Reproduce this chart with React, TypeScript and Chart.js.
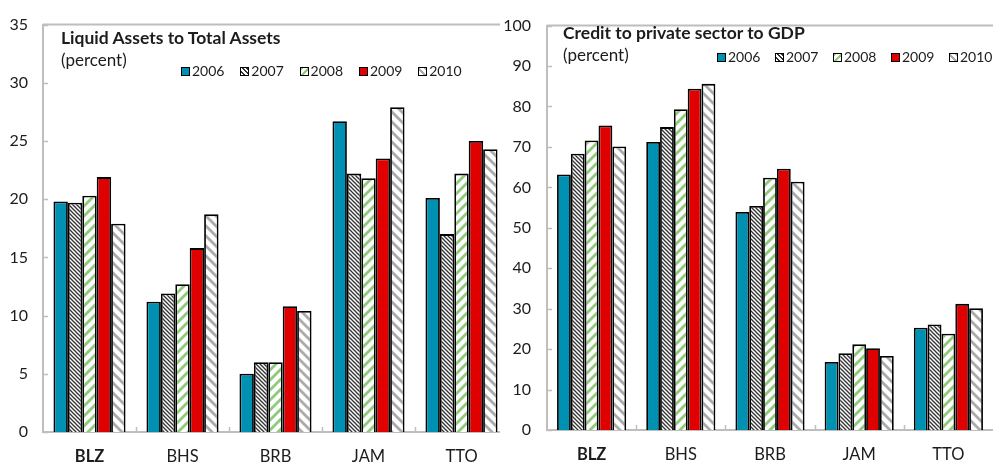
import React, { useEffect, useRef } from 'react';
import { Chart, registerables } from 'chart.js';

Chart.register(...registerables);

const categories = ['BLZ', 'BHS', 'BRB', 'JAM', 'TTO'];
const years = ['2006', '2007', '2008', '2009', '2010'];

// Liquid assets to total assets (percent)
const liquid2006 = [19.8, 11.2, 5.0, 26.7, 20.1];
const liquid2007 = [19.7, 11.9, 6.0, 22.2, 17.0];
const liquid2008 = [20.3, 12.7, 6.0, 21.8, 22.2];
const liquid2009 = [21.9, 15.8, 10.8, 23.5, 25.0];
const liquid2010 = [17.9, 18.7, 10.4, 27.9, 24.3];

// Credit to private sector (percent of GDP)
const credit2006 = [63.2, 71.2, 53.9, 16.8, 25.3];
const credit2007 = [68.3, 74.9, 55.4, 19.0, 26.1];
const credit2008 = [71.6, 79.3, 62.4, 21.2, 23.8];
const credit2009 = [75.3, 84.4, 64.6, 20.2, 31.2];
const credit2010 = [70.1, 85.6, 61.4, 18.3, 30.1];

const liquidAxis = { max: 35, step: 5 };
const creditAxis = { max: 100, step: 10 };

const FONT = 'Lato, "Open Sans", "DejaVu Sans", sans-serif';
const TEXT = '#1c1c1c';
const AXIS = '#BEBEBE';

const TEAL = '#0090B2';
const RED = '#E00000';

// Diagonal hatch tile; 'down' draws "\" lines, 'up' draws "/" lines.
function hatch(color: string, period: number, width: number, dir: 'down' | 'up'): CanvasPattern {
  const c = document.createElement('canvas');
  c.width = period;
  c.height = period;
  const g = c.getContext('2d')!;
  g.fillStyle = '#ffffff';
  g.fillRect(0, 0, period, period);
  g.strokeStyle = color;
  g.lineWidth = width;
  for (let k = -2; k <= 3; k++) {
    g.beginPath();
    if (dir === 'down') {
      g.moveTo(-period, -period + k * period);
      g.lineTo(2 * period, 2 * period + k * period);
    } else {
      g.moveTo(-period, period + k * period);
      g.lineTo(2 * period, -2 * period + k * period);
    }
    g.stroke();
  }
  return g.createPattern(c, 'repeat')!;
}

function makeFills(): (string | CanvasPattern)[] {
  return [
    TEAL,
    hatch('#333333', 4, 1.3, 'down'),
    hatch('#8FCB7B', 10, 2.8, 'up'),
    RED,
    hatch('#ABABAB', 10, 2.8, 'down'),
  ];
}

const swatches = [
  TEAL,
  'repeating-linear-gradient(45deg, #ffffff 0px, #ffffff 2px, #333333 2px, #333333 3.2px)',
  'repeating-linear-gradient(-45deg, #ffffff 0px, #ffffff 3px, #8FCB7B 3px, #8FCB7B 5px)',
  RED,
  'repeating-linear-gradient(45deg, #ffffff 0px, #ffffff 3px, #ABABAB 3px, #ABABAB 5px)',
];

// Frame lines: top border plus inward tick marks on both axes.
const axisFrame = {
  id: 'axisFrame',
  beforeDatasetsDraw(chart: any) {
    const { ctx, chartArea: a, scales } = chart;
    const xs = scales.x;
    const ys = scales.y;
    ctx.save();
    ctx.strokeStyle = AXIS;
    ctx.lineWidth = 2;
    ctx.beginPath();
    ctx.moveTo(a.left, a.top);
    ctx.lineTo(a.right, a.top);
    ctx.stroke();
    ctx.lineWidth = 1.5;
    ctx.beginPath();
    ys.ticks.forEach((t: any) => {
      const py = Math.round(ys.getPixelForValue(t.value)) + 0.5;
      ctx.moveTo(a.left, py);
      ctx.lineTo(a.left + 5, py);
    });
    for (let i = 1; i < categories.length; i++) {
      const px = Math.round((xs.getPixelForTick(i - 1) + xs.getPixelForTick(i)) / 2) + 0.5;
      ctx.moveTo(px, a.bottom);
      ctx.lineTo(px, a.bottom - 5);
    }
    ctx.stroke();
    ctx.restore();
  },
};

type Area = { left: number; top: number; right: number; bottom: number };

type PanelProps = {
  x: number;
  width: number;
  height: number;
  area: Area;
  max: number;
  step: number;
  labelPad: number;
  series: number[][];
  title: string;
  titleX: number;
  titleY: number;
  subY: number;
  legendX: number;
  legendY: number;
  legendStep: number;
  z: number;
};

function BarPanel(p: PanelProps) {
  const ref = useRef<HTMLCanvasElement | null>(null);

  useEffect(() => {
    const canvas = ref.current;
    if (!canvas) return;
    const fills = makeFills();
    const chart = new Chart(canvas, {
      type: 'bar',
      data: {
        labels: categories,
        datasets: years.map((yr, i) => ({
          label: yr,
          data: p.series[i],
          backgroundColor: fills[i] as any,
          borderColor: '#000000',
          borderWidth: 1.8,
          categoryPercentage: 0.775,
          barPercentage: 1.0,
        })),
      },
      options: {
        animation: false,
        responsive: false,
        devicePixelRatio: 1,
        layout: {
          padding: { left: 0, top: p.area.top, right: p.width - p.area.right, bottom: 0 },
        },
        plugins: {
          legend: { display: false },
          tooltip: { enabled: false },
          title: { display: false },
        },
        scales: {
          x: {
            grid: { display: false, drawTicks: false },
            border: { display: true, color: AXIS, width: 2 },
            ticks: {
              padding: 15,
              color: TEXT,
              font: (ctx: any) => ({
                family: FONT,
                size: 16.5,
                weight: ctx.index === 0 ? 'bold' : 'normal',
              }),
            },
            afterFit: (s: any) => {
              s.height = p.height - p.area.bottom;
            },
          },
          y: {
            min: 0,
            max: p.max,
            grid: { display: false, drawTicks: false },
            border: { display: true, color: AXIS, width: 2 },
            ticks: {
              stepSize: p.step,
              padding: p.labelPad,
              color: TEXT,
              font: { family: FONT, size: 16 },
            },
            afterFit: (s: any) => {
              s.width = p.area.left;
            },
          },
        },
      },
      plugins: [axisFrame],
    });
    return () => chart.destroy();
  }, []);

  const text: React.CSSProperties = {
    position: 'absolute',
    fontFamily: FONT,
    color: TEXT,
    whiteSpace: 'nowrap',
    lineHeight: '20px',
  };

  return (
    <div
      style={{
        position: 'absolute',
        left: p.x,
        top: 0,
        width: p.width,
        height: p.height,
        background: '#ffffff',
        zIndex: p.z,
      }}
    >
      <canvas ref={ref} width={p.width} height={p.height} style={{ display: 'block', width: p.width, height: p.height }} />
      <div style={{ ...text, left: p.titleX, top: p.titleY - 10, fontSize: 17.5, fontWeight: 'bold' }}>{p.title}</div>
      <div style={{ ...text, left: p.titleX, top: p.subY - 10, fontSize: 17 }}>(percent)</div>
      {years.map((yr, i) => (
        <div
          key={yr}
          style={{
            ...text,
            left: p.legendX + i * p.legendStep,
            top: p.legendY - 10,
            fontSize: 14,
            display: 'flex',
            alignItems: 'center',
          }}
        >
          <span
            style={{
              display: 'inline-block',
              width: 7,
              height: 7,
              border: '1px solid #000',
              background: swatches[i],
            }}
          />
          <span style={{ marginLeft: 2 }}>{yr}</span>
        </div>
      ))}
    </div>
  );
}

export default function App() {
  return (
    <div
      style={{
        position: 'absolute',
        left: 0,
        top: 0,
        width: 993,
        height: 470,
        overflow: 'hidden',
        background: '#ffffff',
      }}
    >
      <BarPanel
        x={0}
        width={510}
        height={470}
        area={{ left: 43, top: 16, right: 508, bottom: 432 }}
        max={liquidAxis.max}
        step={liquidAxis.step}
        labelPad={15}
        series={[liquid2006, liquid2007, liquid2008, liquid2009, liquid2010]}
        title="Liquid Assets to Total Assets"
        titleX={61}
        titleY={38}
        subY={60}
        legendX={181}
        legendY={71}
        legendStep={59.3}
        z={1}
      />
      <BarPanel
        x={500}
        width={493}
        height={470}
        area={{ left: 47, top: 13, right: 493, bottom: 430 }}
        max={creditAxis.max}
        step={creditAxis.step}
        labelPad={16}
        series={[credit2006, credit2007, credit2008, credit2009, credit2010]}
        title="Credit to private sector to GDP"
        titleX={63}
        titleY={33}
        subY={55}
        legendX={217}
        legendY={57}
        legendStep={58}
        z={2}
      />
    </div>
  );
}
